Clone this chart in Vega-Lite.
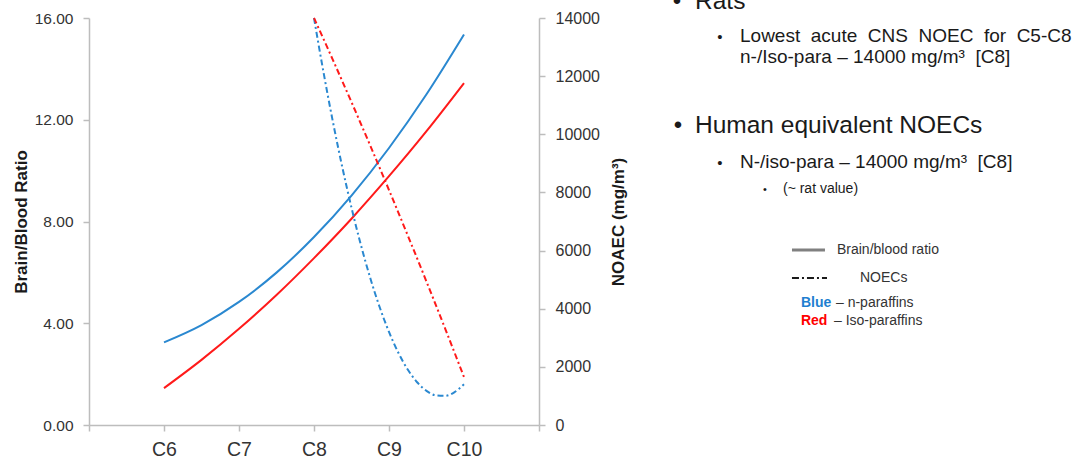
{
  "$schema": "https://vega.github.io/schema/vega-lite/v6.json",
  "width": 450,
  "height": 407,
  "autosize": {"type": "none"},
  "padding": {"left": 89, "top": 18, "right": 536, "bottom": 40},
  "background": "white",
  "config": {
    "view": {"stroke": null},
    "font": "Liberation Sans",
    "axis": {
      "grid": false,
      "domainColor": "#bdbdbd",
      "tickColor": "#bdbdbd",
      "domainWidth": 1.5,
      "tickWidth": 1.5,
      "tickSize": 6,
      "labelColor": "#333333",
      "titleColor": "#1a1a1a",
      "labelFont": "Liberation Sans",
      "titleFont": "Liberation Sans"
    }
  },
  "data": {
    "values": [
      {"carbon": 6, "value": 3.25, "paraffin": "n-paraffins", "measure": "ratio"},
      {"carbon": 6.5, "value": 3.93, "paraffin": "n-paraffins", "measure": "ratio"},
      {"carbon": 7, "value": 4.84, "paraffin": "n-paraffins", "measure": "ratio"},
      {"carbon": 7.5, "value": 5.99, "paraffin": "n-paraffins", "measure": "ratio"},
      {"carbon": 8, "value": 7.39, "paraffin": "n-paraffins", "measure": "ratio"},
      {"carbon": 8.5, "value": 9.02, "paraffin": "n-paraffins", "measure": "ratio"},
      {"carbon": 9, "value": 10.89, "paraffin": "n-paraffins", "measure": "ratio"},
      {"carbon": 9.5, "value": 13.0, "paraffin": "n-paraffins", "measure": "ratio"},
      {"carbon": 10, "value": 15.35, "paraffin": "n-paraffins", "measure": "ratio"},
      {"carbon": 6, "value": 1.45, "paraffin": "Iso-paraffins", "measure": "ratio"},
      {"carbon": 6.5, "value": 2.56, "paraffin": "Iso-paraffins", "measure": "ratio"},
      {"carbon": 7, "value": 3.78, "paraffin": "Iso-paraffins", "measure": "ratio"},
      {"carbon": 7.5, "value": 5.11, "paraffin": "Iso-paraffins", "measure": "ratio"},
      {"carbon": 8, "value": 6.56, "paraffin": "Iso-paraffins", "measure": "ratio"},
      {"carbon": 8.5, "value": 8.11, "paraffin": "Iso-paraffins", "measure": "ratio"},
      {"carbon": 9, "value": 9.78, "paraffin": "Iso-paraffins", "measure": "ratio"},
      {"carbon": 9.5, "value": 11.55, "paraffin": "Iso-paraffins", "measure": "ratio"},
      {"carbon": 10, "value": 13.44, "paraffin": "Iso-paraffins", "measure": "ratio"},
      {"carbon": 8, "value": 14000, "paraffin": "n-paraffins", "measure": "noec"},
      {"carbon": 8.125, "value": 12158, "paraffin": "n-paraffins", "measure": "noec"},
      {"carbon": 8.25, "value": 10456, "paraffin": "n-paraffins", "measure": "noec"},
      {"carbon": 8.375, "value": 8895, "paraffin": "n-paraffins", "measure": "noec"},
      {"carbon": 8.5, "value": 7475, "paraffin": "n-paraffins", "measure": "noec"},
      {"carbon": 8.625, "value": 6195, "paraffin": "n-paraffins", "measure": "noec"},
      {"carbon": 8.75, "value": 5056, "paraffin": "n-paraffins", "measure": "noec"},
      {"carbon": 8.875, "value": 4058, "paraffin": "n-paraffins", "measure": "noec"},
      {"carbon": 9, "value": 3200, "paraffin": "n-paraffins", "measure": "noec"},
      {"carbon": 9.125, "value": 2483, "paraffin": "n-paraffins", "measure": "noec"},
      {"carbon": 9.25, "value": 1906, "paraffin": "n-paraffins", "measure": "noec"},
      {"carbon": 9.375, "value": 1470, "paraffin": "n-paraffins", "measure": "noec"},
      {"carbon": 9.5, "value": 1175, "paraffin": "n-paraffins", "measure": "noec"},
      {"carbon": 9.625, "value": 1020, "paraffin": "n-paraffins", "measure": "noec"},
      {"carbon": 9.75, "value": 1006, "paraffin": "n-paraffins", "measure": "noec"},
      {"carbon": 9.875, "value": 1133, "paraffin": "n-paraffins", "measure": "noec"},
      {"carbon": 10, "value": 1400, "paraffin": "n-paraffins", "measure": "noec"},
      {"carbon": 8, "value": 14000, "paraffin": "Iso-paraffins", "measure": "noec"},
      {"carbon": 8.25, "value": 12569, "paraffin": "Iso-paraffins", "measure": "noec"},
      {"carbon": 8.5, "value": 11106, "paraffin": "Iso-paraffins", "measure": "noec"},
      {"carbon": 8.75, "value": 9611, "paraffin": "Iso-paraffins", "measure": "noec"},
      {"carbon": 9, "value": 8083, "paraffin": "Iso-paraffins", "measure": "noec"},
      {"carbon": 9.25, "value": 6523, "paraffin": "Iso-paraffins", "measure": "noec"},
      {"carbon": 9.5, "value": 4931, "paraffin": "Iso-paraffins", "measure": "noec"},
      {"carbon": 9.75, "value": 3307, "paraffin": "Iso-paraffins", "measure": "noec"},
      {"carbon": 10, "value": 1650, "paraffin": "Iso-paraffins", "measure": "noec"}
    ]
  },
  "layer": [
    {
      "transform": [{"filter": "datum.measure === 'ratio'"}],
      "mark": {"type": "line", "interpolate": "monotone", "strokeWidth": 2},
      "encoding": {
        "x": {
          "field": "carbon", "type": "quantitative",
          "scale": {"domain": [5, 11], "nice": false, "zero": false},
          "axis": {
            "values": [5, 6, 7, 8, 9, 10, 11],
            "labelExpr": "datum.value >= 6 && datum.value <= 10 ? 'C' + datum.value : ''",
            "title": null,
            "labelFontSize": 19.5,
            "labelPadding": 9
          }
        },
        "y": {
          "field": "value", "type": "quantitative",
          "scale": {"domain": [0, 16], "nice": false},
          "axis": {
            "orient": "left",
            "values": [0, 4, 8, 12, 16],
            "format": ".2f",
            "title": "Brain/Blood Ratio",
            "titleFontSize": 17,
            "titleFontWeight": "bold",
            "titlePadding": 4,
            "labelFontSize": 15.5,
            "labelPadding": 10
          }
        },
        "color": {
          "field": "paraffin", "type": "nominal",
          "scale": {"domain": ["n-paraffins", "Iso-paraffins"], "range": ["#2a88d0", "#ff1a1a"]},
          "legend": null
        },
        "detail": {"field": "paraffin"}
      }
    },
    {
      "transform": [{"filter": "datum.measure === 'noec'"}],
      "mark": {"type": "line", "interpolate": "monotone", "strokeWidth": 2, "strokeDash": [6, 3, 2, 3]},
      "encoding": {
        "x": {"field": "carbon", "type": "quantitative", "scale": {"domain": [5, 11], "nice": false, "zero": false}, "axis": null},
        "y": {
          "field": "value", "type": "quantitative",
          "scale": {"domain": [0, 14000], "nice": false},
          "axis": {
            "orient": "right",
            "values": [0, 2000, 4000, 6000, 8000, 10000, 12000, 14000],
            "format": "d",
            "title": "NOAEC (mg/m³)",
            "titleAngle": 270,
            "titleFontSize": 17,
            "titleFontWeight": "bold",
            "titlePadding": 28,
            "labelFontSize": 16,
            "labelPadding": 10
          }
        },
        "color": {
          "field": "paraffin", "type": "nominal",
          "scale": {"domain": ["n-paraffins", "Iso-paraffins"], "range": ["#2a88d0", "#ff1a1a"]},
          "legend": null
        },
        "detail": {"field": "paraffin"}
      }
    },
    {
      "data": {"values": [{}]},
      "layer": [
        {
          "mark": {"type": "text", "align": "center", "baseline": "alphabetic", "fontSize": 24, "color": "#1a1a1a"},
          "encoding": {
            "x": {"datum": 12.84, "type": "quantitative", "scale": {"domain": [5, 11]}, "axis": null},
            "y": {"datum": 16.354, "type": "quantitative", "scale": {"domain": [0, 16]}, "axis": null},
            "text": {"value": "•"}
          }
        },
        {
          "mark": {"type": "text", "align": "left", "baseline": "alphabetic", "fontSize": 24.5, "color": "#1a1a1a"},
          "encoding": {
            "x": {"datum": 13.08, "type": "quantitative", "scale": {"domain": [5, 11]}, "axis": null},
            "y": {"datum": 16.354, "type": "quantitative", "scale": {"domain": [0, 16]}, "axis": null},
            "text": {"value": "Rats"}
          }
        },
        {
          "mark": {"type": "text", "align": "center", "baseline": "alphabetic", "fontSize": 15, "color": "#1a1a1a"},
          "encoding": {
            "x": {"datum": 13.413, "type": "quantitative", "scale": {"domain": [5, 11]}, "axis": null},
            "y": {"datum": 15.057, "type": "quantitative", "scale": {"domain": [0, 16]}, "axis": null},
            "text": {"value": "•"}
          }
        },
        {
          "mark": {"type": "text", "align": "left", "baseline": "alphabetic", "fontSize": 19, "color": "#1a1a1a"},
          "encoding": {
            "x": {"datum": 13.68, "type": "quantitative", "scale": {"domain": [5, 11]}, "axis": null},
            "y": {"datum": 15.057, "type": "quantitative", "scale": {"domain": [0, 16]}, "axis": null},
            "text": {"value": "Lowest \u00a0acute \u00a0CNS \u00a0NOEC \u00a0for \u00a0C5-C8"}
          }
        },
        {
          "mark": {"type": "text", "align": "left", "baseline": "alphabetic", "fontSize": 19, "color": "#1a1a1a"},
          "encoding": {
            "x": {"datum": 13.68, "type": "quantitative", "scale": {"domain": [5, 11]}, "axis": null},
            "y": {"datum": 14.231, "type": "quantitative", "scale": {"domain": [0, 16]}, "axis": null},
            "text": {"value": "n-/Iso-para – 14000 mg/m³ \u00a0[C8]"}
          }
        },
        {
          "mark": {"type": "text", "align": "center", "baseline": "alphabetic", "fontSize": 24, "color": "#1a1a1a"},
          "encoding": {
            "x": {"datum": 12.853, "type": "quantitative", "scale": {"domain": [5, 11]}, "axis": null},
            "y": {"datum": 11.479, "type": "quantitative", "scale": {"domain": [0, 16]}, "axis": null},
            "text": {"value": "•"}
          }
        },
        {
          "mark": {"type": "text", "align": "left", "baseline": "alphabetic", "fontSize": 24.5, "color": "#1a1a1a"},
          "encoding": {
            "x": {"datum": 13.08, "type": "quantitative", "scale": {"domain": [5, 11]}, "axis": null},
            "y": {"datum": 11.479, "type": "quantitative", "scale": {"domain": [0, 16]}, "axis": null},
            "text": {"value": "Human equivalent NOECs"}
          }
        },
        {
          "mark": {"type": "text", "align": "center", "baseline": "alphabetic", "fontSize": 15, "color": "#1a1a1a"},
          "encoding": {
            "x": {"datum": 13.413, "type": "quantitative", "scale": {"domain": [5, 11]}, "axis": null},
            "y": {"datum": 10.103, "type": "quantitative", "scale": {"domain": [0, 16]}, "axis": null},
            "text": {"value": "•"}
          }
        },
        {
          "mark": {"type": "text", "align": "left", "baseline": "alphabetic", "fontSize": 19, "color": "#1a1a1a"},
          "encoding": {
            "x": {"datum": 13.68, "type": "quantitative", "scale": {"domain": [5, 11]}, "axis": null},
            "y": {"datum": 10.103, "type": "quantitative", "scale": {"domain": [0, 16]}, "axis": null},
            "text": {"value": "N-/iso-para – 14000 mg/m³ \u00a0[C8]"}
          }
        },
        {
          "mark": {"type": "text", "align": "center", "baseline": "alphabetic", "fontSize": 11, "color": "#1a1a1a"},
          "encoding": {
            "x": {"datum": 14.013, "type": "quantitative", "scale": {"domain": [5, 11]}, "axis": null},
            "y": {"datum": 9.12, "type": "quantitative", "scale": {"domain": [0, 16]}, "axis": null},
            "text": {"value": "•"}
          }
        },
        {
          "mark": {"type": "text", "align": "left", "baseline": "alphabetic", "fontSize": 14, "color": "#1a1a1a"},
          "encoding": {
            "x": {"datum": 14.253, "type": "quantitative", "scale": {"domain": [5, 11]}, "axis": null},
            "y": {"datum": 9.12, "type": "quantitative", "scale": {"domain": [0, 16]}, "axis": null},
            "text": {"value": "(~ rat value)"}
          }
        },
        {
          "mark": {"type": "rule", "color": "#808080", "strokeWidth": 3},
          "encoding": {
            "x": {"datum": 14.373, "type": "quantitative", "scale": {"domain": [5, 11]}, "axis": null},
            "x2": {"datum": 14.813},
            "y": {"datum": 6.88, "type": "quantitative", "scale": {"domain": [0, 16]}, "axis": null}
          }
        },
        {
          "mark": {"type": "text", "align": "left", "baseline": "alphabetic", "fontSize": 14, "color": "#333333"},
          "encoding": {
            "x": {"datum": 14.973, "type": "quantitative", "scale": {"domain": [5, 11]}, "axis": null},
            "y": {"datum": 6.722, "type": "quantitative", "scale": {"domain": [0, 16]}, "axis": null},
            "text": {"value": "Brain/blood ratio"}
          }
        },
        {
          "mark": {"type": "rule", "color": "#1a1a1a", "strokeWidth": 2, "strokeDash": [7, 3, 2, 3]},
          "encoding": {
            "x": {"datum": 14.373, "type": "quantitative", "scale": {"domain": [5, 11]}, "axis": null},
            "x2": {"datum": 14.84},
            "y": {"datum": 5.779, "type": "quantitative", "scale": {"domain": [0, 16]}, "axis": null}
          }
        },
        {
          "mark": {"type": "text", "align": "left", "baseline": "alphabetic", "fontSize": 14, "color": "#333333"},
          "encoding": {
            "x": {"datum": 15.28, "type": "quantitative", "scale": {"domain": [5, 11]}, "axis": null},
            "y": {"datum": 5.622, "type": "quantitative", "scale": {"domain": [0, 16]}, "axis": null},
            "text": {"value": "NOECs"}
          }
        },
        {
          "mark": {"type": "text", "align": "left", "baseline": "alphabetic", "fontSize": 14, "fontWeight": "bold", "color": "#1f7fd0"},
          "encoding": {
            "x": {"datum": 14.493, "type": "quantitative", "scale": {"domain": [5, 11]}, "axis": null},
            "y": {"datum": 4.639, "type": "quantitative", "scale": {"domain": [0, 16]}, "axis": null},
            "text": {"value": "Blue"}
          }
        },
        {
          "mark": {"type": "text", "align": "left", "baseline": "alphabetic", "fontSize": 14, "color": "#333333"},
          "encoding": {
            "x": {"datum": 14.96, "type": "quantitative", "scale": {"domain": [5, 11]}, "axis": null},
            "y": {"datum": 4.639, "type": "quantitative", "scale": {"domain": [0, 16]}, "axis": null},
            "text": {"value": "– n-paraffins"}
          }
        },
        {
          "mark": {"type": "text", "align": "left", "baseline": "alphabetic", "fontSize": 14, "fontWeight": "bold", "color": "#ff0000"},
          "encoding": {
            "x": {"datum": 14.493, "type": "quantitative", "scale": {"domain": [5, 11]}, "axis": null},
            "y": {"datum": 3.931, "type": "quantitative", "scale": {"domain": [0, 16]}, "axis": null},
            "text": {"value": "Red"}
          }
        },
        {
          "mark": {"type": "text", "align": "left", "baseline": "alphabetic", "fontSize": 14, "color": "#333333"},
          "encoding": {
            "x": {"datum": 14.933, "type": "quantitative", "scale": {"domain": [5, 11]}, "axis": null},
            "y": {"datum": 3.931, "type": "quantitative", "scale": {"domain": [0, 16]}, "axis": null},
            "text": {"value": "– Iso-paraffins"}
          }
        }
      ]
    }
  ],
  "resolve": {"scale": {"x": "independent", "y": "independent"}}
}
